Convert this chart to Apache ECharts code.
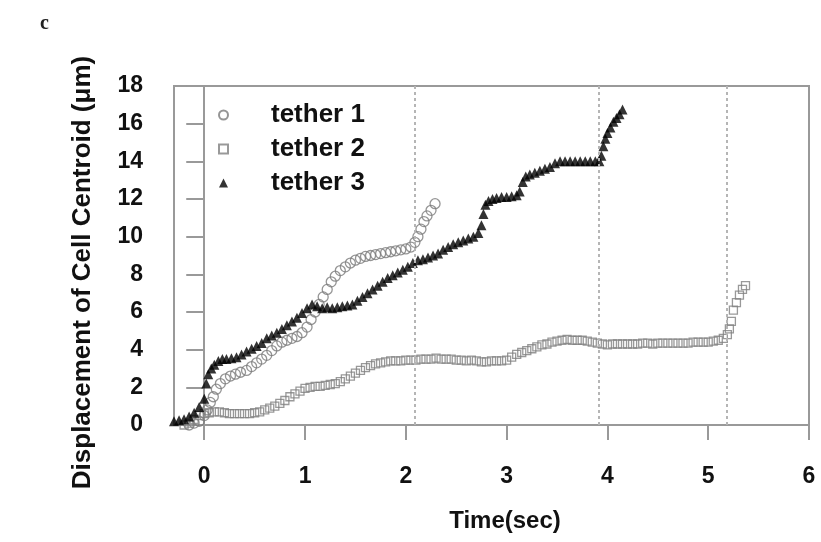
<!DOCTYPE html>
<html>
<head>
<meta charset="utf-8">
<script src="https://cdn.jsdelivr.net/npm/echarts@6/dist/echarts.min.js"></script>
<style>html,body{margin:0;padding:0;background:#fff}#c{width:821px;height:542px}</style>
</head>
<body>
<div id="c"></div>
<script>
// ---- data (time in sec, displacement in µm) ----
const seriesNames = ['tether 1', 'tether 2', 'tether 3'];
const xTicks = [0, 1, 2, 3, 4, 5, 6];
const guideTimes = [2.09, 3.91, 5.18];

const tether1 = [
  [-0.15,0],[-0.1,0.1],[-0.05,0.2],[0,0.5],[0.03,0.8],[0.06,1.2],[0.09,1.5],[0.12,1.9],[0.16,2.2],
  [0.21,2.45],[0.26,2.6],[0.31,2.7],[0.36,2.8],[0.42,2.9],[0.47,3.1],[0.52,3.3],[0.57,3.5],[0.62,3.7],
  [0.67,3.95],[0.72,4.2],[0.77,4.4],[0.82,4.5],[0.87,4.6],[0.92,4.7],[0.97,4.9],[1.02,5.2],[1.06,5.6],
  [1.1,6.0],[1.14,6.4],[1.18,6.8],[1.22,7.2],[1.26,7.6],[1.3,7.9],[1.35,8.2],[1.4,8.4],[1.45,8.6],
  [1.5,8.75],[1.55,8.85],[1.6,8.95],[1.65,9.0],[1.7,9.05],[1.75,9.1],[1.8,9.15],[1.85,9.2],[1.9,9.25],
  [1.95,9.3],[2.0,9.35],[2.05,9.45],[2.09,9.7],[2.12,10.0],[2.15,10.4],[2.18,10.8],[2.21,11.1],[2.25,11.4],[2.29,11.75]
];

const tether2 = [
  [-0.2,0],[-0.15,0.1],[-0.1,0.3],[-0.05,0.5],[0,0.6],[0.05,0.65],[0.1,0.7],[0.15,0.7],[0.2,0.65],
  [0.25,0.6],[0.3,0.6],[0.35,0.6],[0.4,0.6],[0.45,0.6],[0.5,0.65],[0.55,0.7],[0.6,0.8],[0.65,0.9],
  [0.7,1.0],[0.75,1.15],[0.8,1.3],[0.85,1.5],[0.9,1.65],[0.95,1.8],[1.0,1.95],[1.05,2.0],[1.1,2.05],
  [1.15,2.05],[1.2,2.1],[1.25,2.15],[1.3,2.2],[1.35,2.3],[1.4,2.45],[1.45,2.6],[1.5,2.75],[1.55,2.9],
  [1.6,3.05],[1.65,3.15],[1.7,3.25],[1.75,3.3],[1.8,3.35],[1.85,3.4],[1.9,3.4],[1.95,3.4],[2.0,3.45],
  [2.05,3.45],[2.1,3.45],[2.15,3.5],[2.2,3.5],[2.25,3.5],[2.3,3.55],[2.35,3.5],[2.4,3.5],[2.45,3.5],
  [2.5,3.45],[2.55,3.45],[2.6,3.4],[2.65,3.45],[2.7,3.4],[2.75,3.35],[2.8,3.35],[2.85,3.4],[2.9,3.4],
  [2.95,3.4],[3.0,3.45],[3.05,3.6],[3.1,3.75],[3.15,3.85],[3.2,3.95],[3.25,4.05],[3.3,4.15],[3.35,4.25],
  [3.4,4.3],[3.45,4.4],[3.5,4.45],[3.55,4.5],[3.6,4.55],[3.65,4.5],[3.7,4.5],[3.75,4.5],[3.8,4.45],
  [3.85,4.4],[3.9,4.35],[3.95,4.3],[4.0,4.25],[4.05,4.3],[4.1,4.3],[4.15,4.3],[4.2,4.3],[4.25,4.3],
  [4.3,4.3],[4.35,4.35],[4.4,4.35],[4.45,4.3],[4.5,4.35],[4.55,4.35],[4.6,4.35],[4.65,4.35],[4.7,4.35],
  [4.75,4.35],[4.8,4.35],[4.85,4.4],[4.9,4.4],[4.95,4.4],[5.0,4.4],[5.05,4.45],[5.1,4.5],[5.15,4.6],
  [5.19,4.8],[5.21,5.1],[5.23,5.5],[5.25,6.1],[5.28,6.5],[5.31,6.9],[5.34,7.2],[5.37,7.4]
];

const tether3 = [
  [-0.3,0.2],[-0.25,0.25],[-0.2,0.3],[-0.15,0.45],[-0.1,0.65],[-0.05,0.95],[0,1.4],[0.02,2.2],[0.04,2.7],
  [0.07,3.0],[0.1,3.2],[0.14,3.4],[0.18,3.5],[0.22,3.5],[0.27,3.55],[0.32,3.6],[0.37,3.75],[0.42,3.9],
  [0.47,4.05],[0.52,4.2],[0.57,4.35],[0.62,4.6],[0.67,4.75],[0.72,4.9],[0.77,5.1],[0.82,5.3],[0.87,5.5],
  [0.92,5.7],[0.97,5.95],[1.02,6.2],[1.07,6.4],[1.12,6.3],[1.17,6.2],[1.22,6.25],[1.27,6.2],[1.32,6.25],
  [1.37,6.3],[1.42,6.35],[1.47,6.4],[1.52,6.6],[1.57,6.8],[1.62,7.0],[1.67,7.2],[1.72,7.4],[1.77,7.6],
  [1.82,7.8],[1.87,7.95],[1.92,8.1],[1.97,8.25],[2.02,8.4],[2.07,8.6],[2.12,8.75],[2.17,8.8],[2.22,8.9],
  [2.27,9.0],[2.32,9.1],[2.37,9.3],[2.42,9.45],[2.47,9.6],[2.52,9.7],[2.57,9.8],[2.62,9.9],[2.67,10.0],
  [2.72,10.2],[2.75,10.6],[2.77,11.2],[2.79,11.7],[2.82,11.9],[2.86,12.0],[2.9,12.05],[2.95,12.1],
  [3.0,12.1],[3.05,12.15],[3.1,12.2],[3.13,12.4],[3.16,12.9],[3.19,13.2],[3.23,13.3],[3.28,13.4],
  [3.33,13.5],[3.38,13.6],[3.43,13.7],[3.48,13.9],[3.53,14.0],[3.58,14.0],[3.63,14.0],[3.68,14.0],
  [3.73,14.0],[3.78,14.0],[3.83,14.0],[3.88,14.0],[3.92,14.0],[3.94,14.3],[3.96,14.8],[3.98,15.2],
  [4.0,15.5],[4.03,15.8],[4.06,16.1],[4.09,16.3],[4.12,16.5],[4.15,16.75]
];

const FONT = '"Liberation Sans", Arial, sans-serif';
const AX = '#999999';

const chart = echarts.init(document.getElementById('c'), null, {renderer: 'canvas'});
chart.setOption({
  animation: false,
  backgroundColor: '#ffffff',
  title: {
    text: 'c', left: 35, top: 9,
    textStyle: {fontFamily: '"Liberation Serif", "DejaVu Serif", serif', fontWeight: 'bold', fontSize: 20, color: '#222'}
  },
  grid: {left: 174, right: 12, top: 86, bottom: 117, show: true, borderColor: AX, borderWidth: 2, backgroundColor: 'transparent'},
  legend: {
    orient: 'vertical', left: 213, top: 96, itemGap: 6, itemWidth: 9, itemHeight: 9,
    data: seriesNames,
    textStyle: {fontFamily: FONT, fontWeight: 'bold', fontSize: 26, color: '#111', lineHeight: 28, padding: [0, 0, 0, 38]}
  },
  xAxis: {
    type: 'value', min: -0.3, max: 6,
    name: 'Time(sec)', nameLocation: 'middle', nameGap: 84,
    nameTextStyle: {fontFamily: FONT, fontWeight: 'bold', fontSize: 24, color: '#111', padding: [0, 0, 0, 27]},
    axisLine: {show: true, onZero: false, lineStyle: {color: AX, width: 2}},
    axisTick: {show: true, length: 15, lineStyle: {color: AX, width: 2}, customValues: xTicks},
    axisLabel: {fontFamily: FONT, fontWeight: 'bold', fontSize: 23, color: '#111', margin: 40, customValues: xTicks},
    splitLine: {show: false}
  },
  yAxis: {
    type: 'value', min: 0, max: 18, interval: 2,
    name: 'Displacement of Cell Centroid (μm)', nameLocation: 'middle', nameGap: 78,
    nameTextStyle: {fontFamily: FONT, fontWeight: 'bold', fontSize: 26, color: '#111', padding: [0, 34, 0, 0]},
    axisLine: {show: true, lineStyle: {color: AX, width: 2}},
    axisTick: {show: true, length: 18, lineStyle: {color: AX, width: 2}},
    axisLabel: {fontFamily: FONT, fontWeight: 'bold', fontSize: 23, color: '#111', margin: 31},
    splitLine: {show: false}
  },
  series: [
    {
      name: seriesNames[0], type: 'scatter', data: tether1, symbol: 'circle', symbolSize: 10,
      itemStyle: {color: 'rgba(0,0,0,0)', borderColor: '#7a7a7a', borderWidth: 1.3}
    },
    {
      name: seriesNames[1], type: 'scatter', data: tether2, symbol: 'rect', symbolSize: 8,
      itemStyle: {color: 'rgba(0,0,0,0)', borderColor: '#808080', borderWidth: 1.3},
      markLine: {
        silent: true, symbol: 'none', label: {show: false},
        lineStyle: {color: '#b5b5b5', type: [3, 3], width: 2},
        data: guideTimes.map(t => ({xAxis: t}))
      }
    },
    {
      name: seriesNames[2], type: 'scatter', data: tether3, symbol: 'triangle', symbolSize: 10,
      itemStyle: {color: '#000000'}
    }
  ]
});
</script>
</body>
</html>
